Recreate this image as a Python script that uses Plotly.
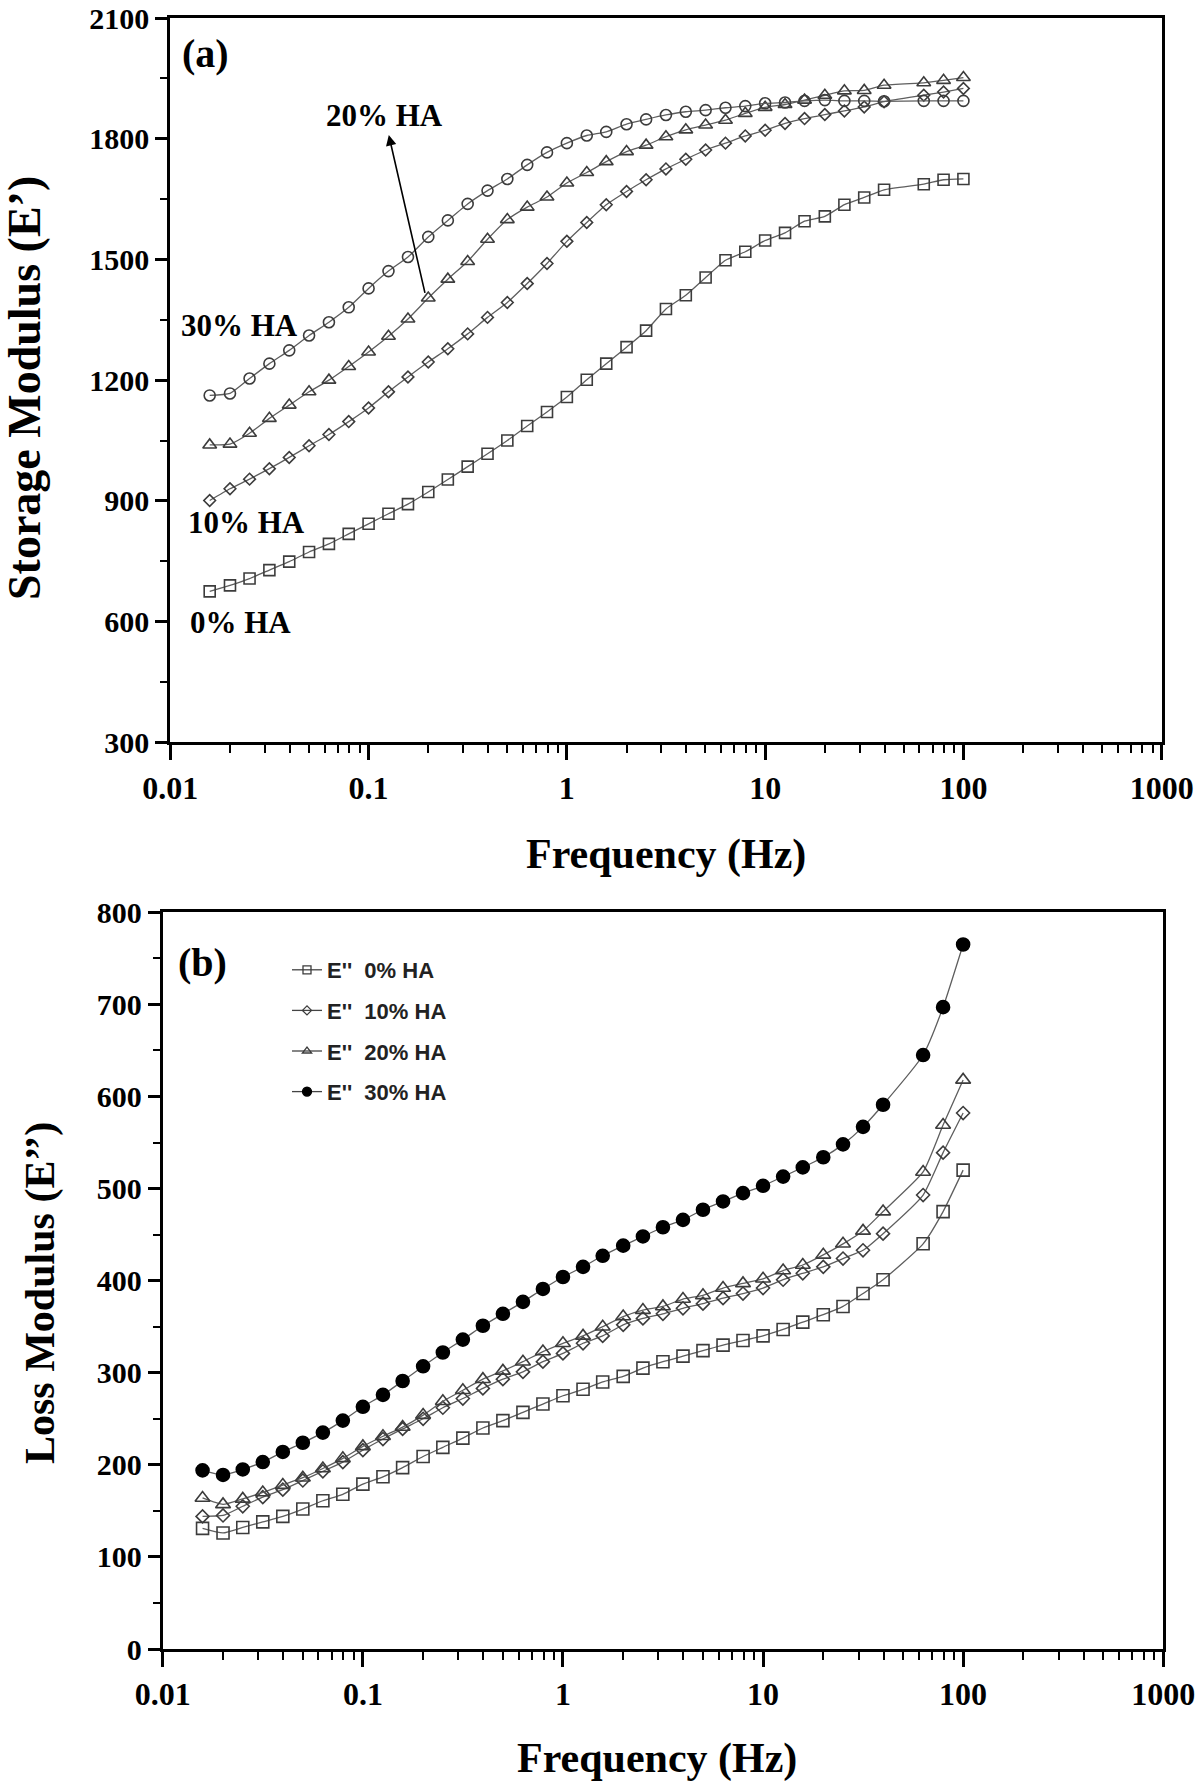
import plotly.graph_objects as go

# ---------------- data ----------------
freq = [0.0158, 0.02, 0.0251, 0.0316, 0.0398, 0.0501, 0.0631, 0.0794, 0.1, 0.126,
        0.158, 0.2, 0.251, 0.316, 0.398, 0.501, 0.631, 0.794, 1.0, 1.26,
        1.58, 2.0, 2.51, 3.16, 3.98, 5.01, 6.31, 7.94, 10.0, 12.6,
        15.8, 20.0, 25.1, 31.6, 39.8, 63.1, 79.4, 100.0]

# Storage modulus E' (panel a)
storage_0 = [675, 690, 707, 728, 749, 773, 793, 818, 843, 868, 892, 922, 953, 985, 1017, 1050, 1086, 1121, 1158, 1201,
             1241, 1282, 1323, 1377, 1411, 1455, 1498, 1519, 1547, 1566, 1595, 1607, 1636, 1654, 1673, 1687, 1698, 1700]
storage_10 = [901, 930, 954, 980, 1008, 1037, 1065, 1097, 1131, 1171, 1208, 1245, 1278, 1315, 1356, 1393, 1440, 1490, 1545, 1592,
              1636, 1669, 1698, 1725, 1749, 1772, 1789, 1807, 1821, 1838, 1850, 1860, 1869, 1879, 1892, 1908, 1916, 1925]
storage_20 = [1039, 1041, 1068, 1105, 1138, 1171, 1200, 1234, 1270, 1309, 1352, 1404, 1451, 1495, 1550, 1599, 1630, 1655, 1690, 1716,
              1743, 1768, 1784, 1805, 1822, 1834, 1846, 1863, 1878, 1885, 1896, 1908, 1919, 1920, 1933, 1939, 1945, 1952]
storage_30 = [1162, 1167, 1204, 1241, 1274, 1311, 1344, 1381, 1428, 1471, 1506, 1556, 1597, 1638, 1671, 1700, 1735, 1766, 1789, 1808,
              1817, 1836, 1848, 1859, 1867, 1871, 1877, 1881, 1888, 1890, 1894, 1896, 1894, 1894, 1893, 1894, 1894, 1894]

# Loss modulus E'' (panel b)
loss_0 = [131, 126, 132, 138, 144, 152, 161, 168, 179, 187, 197, 209, 219, 229, 240, 248, 257, 266, 275, 282,
          290, 296, 305, 312, 318, 324, 330, 335, 340, 347, 355, 363, 372, 386, 401, 440, 475, 520]
loss_10 = [144, 145, 155, 165, 173, 183, 193, 203, 216, 228, 239, 250, 262, 272, 283, 293, 301, 312, 321, 332,
           340, 352, 359, 364, 370, 375, 381, 386, 392, 401, 408, 415, 424, 433, 451, 493, 539, 582]
loss_20 = [164, 157, 163, 170, 178, 186, 196, 207, 220, 231, 241, 254, 269, 281, 293, 302, 312, 323, 332, 340,
           350, 361, 368, 372, 380, 384, 392, 397, 402, 411, 417, 428, 440, 454, 475, 518, 569, 618]
loss_30 = [194, 189, 195, 203, 214, 224, 235, 248, 263, 276, 291, 307, 322, 336, 351, 364, 377, 391, 404, 415,
           427, 438, 448, 458, 466, 477, 486, 495, 503, 513, 523, 534, 548, 567, 591, 645, 697, 765]

series_names = ["0% HA", "10% HA", "20% HA", "30% HA"]
legend_labels = ["E''\u00a0 0% HA", "E''\u00a0 10% HA", "E''\u00a0 20% HA", "E''\u00a0 30% HA"]

x_tickvals = [0.01, 0.1, 1, 10, 100, 1000]
x_ticktext = ["0.01", "0.1", "1", "10", "100", "1000"]

# ---------------- figure ----------------
W, H = 1200, 1785
SERIF = "Liberation Serif"
LINE_C = "#5e5e5e"
MARK_C = "#3c3c3c"

fig = go.Figure()

top_sets = [
    (storage_0, "square-open", 11),
    (storage_10, "diamond-open", 9),
    (storage_20, "triangle-up-open", 12),
    (storage_30, "circle-open", 11),
]
for (vals, sym, sz), nm in zip(top_sets, series_names):
    fig.add_trace(go.Scatter(
        x=freq, y=vals, mode="lines+markers", name=nm, showlegend=False,
        xaxis="x", yaxis="y",
        line=dict(color=LINE_C, width=1.3, shape="spline", smoothing=0.5),
        marker=dict(symbol=sym, size=sz, color=MARK_C, line=dict(width=1.6, color=MARK_C)),
    ))

bot_sets = [
    (loss_0, "square-open", 12, MARK_C),
    (loss_10, "diamond-open", 10, MARK_C),
    (loss_20, "triangle-up-open", 13, MARK_C),
    (loss_30, "circle", 13, "black"),
]
for (vals, sym, sz, col), nm in zip(bot_sets, series_names):
    fig.add_trace(go.Scatter(
        x=freq, y=vals, mode="lines+markers", name=nm, showlegend=False,
        xaxis="x2", yaxis="y2",
        line=dict(color=LINE_C, width=1.3, shape="spline", smoothing=0.5),
        marker=dict(symbol=sym, size=sz, color=col, line=dict(width=1.6, color=col)),
    ))

# legend-only entries (small symbols like the original legend)
leg_syms = [("square-open", 8, MARK_C), ("diamond-open", 7, MARK_C),
            ("triangle-up-open", 8, MARK_C), ("circle", 9, "black")]
for i, ((sym, sz, col), lab) in enumerate(zip(leg_syms, legend_labels)):
    fig.add_trace(go.Scatter(
        x=[None], y=[None], mode="lines+markers", name=lab, showlegend=True,
        legendgroup="g%d" % i, xaxis="x2", yaxis="y2",
        line=dict(color="#444444", width=1.3),
        marker=dict(symbol=sym, size=sz, color=col, line=dict(width=1.3, color=col)),
    ))

minor_log = [m * 10 ** e for e in range(-2, 3) for m in range(2, 10)]

def xaxis_cfg(domain, anchor):
    return dict(
        type="log", range=[-2, 3], domain=domain, anchor=anchor, automargin=False,
        showline=True, linewidth=3, linecolor="black", mirror=True,
        ticks="outside", ticklen=15, tickwidth=2.5, tickcolor="black",
        tickvals=x_tickvals, ticktext=x_ticktext,
        tickfont=dict(family=SERIF, size=32, color="black", weight="bold"),
        minor=dict(ticks="outside", ticklen=8, tickwidth=2, tickcolor="black",
                   tickvals=minor_log, showgrid=False),
        showgrid=False, zeroline=False, ticklabelstandoff=0, ticklabeloverflow="allow",
    )

def yaxis_cfg(domain, anchor, rng, dt):
    return dict(
        range=rng, domain=domain, anchor=anchor, tick0=rng[0], dtick=dt, automargin=False,
        showline=True, linewidth=3, linecolor="black", mirror=True,
        ticks="outside", ticklen=12, tickwidth=2.5, tickcolor="black",
        tickfont=dict(family=SERIF, size=30, color="black", weight="bold"),
        minor=dict(ticks="outside", ticklen=7, tickwidth=2, tickcolor="black",
                   dtick=dt / 2, showgrid=False),
        showgrid=False, zeroline=False, ticklabelstandoff=0, ticklabeloverflow="allow",
    )

def px(x):
    return x / W

def py(y):
    return 1 - y / H

fig.update_layout(
    width=W, height=H, autosize=False,
    margin=dict(l=0, r=0, t=0, b=0, autoexpand=False),
    paper_bgcolor="white", plot_bgcolor="white",
    xaxis=xaxis_cfg([px(170.3), px(1161.7)], "y"),
    yaxis=yaxis_cfg([py(742.3), py(18)], "x", [300, 2100], 300),
    xaxis2=xaxis_cfg([px(162.8), px(1163.2)], "y2"),
    yaxis2=yaxis_cfg([py(1649), py(912.3)], "x2", [0, 800], 100),
    showlegend=True,
    legend=dict(
        x=px(287), y=py(949), xanchor="left", yanchor="top",
        bgcolor="rgba(0,0,0,0)", borderwidth=0,
        font=dict(family="Liberation Sans", size=22, color="#222222", weight="bold"),
        traceorder="grouped", tracegroupgap=9, itemsizing="trace",
    ),
)

title_font = dict(family=SERIF, color="black", weight="bold")
C = dict(xanchor="center", yanchor="middle", showarrow=False)
annotations = [
    # axis titles
    dict(text="Frequency (Hz)", x=px(666), y=py(854), xref="paper", yref="paper",
         font=dict(size=42, **title_font), **C),
    dict(text="Frequency (Hz)", x=px(657), y=py(1758), xref="paper", yref="paper",
         font=dict(size=42, **title_font), **C),
    dict(text="Storage Modulus (E\u2019)", x=px(24), y=py(388), xref="paper", yref="paper",
         textangle=-90, font=dict(size=46, **title_font), **C),
    dict(text="Loss Modulus (E\u2019\u2019)", x=px(40), y=py(1293), xref="paper", yref="paper",
         textangle=-90, font=dict(size=42, **title_font), **C),
    # panel labels
    dict(text="(a)", x=-1.825, y=2013, xref="x", yref="y",
         font=dict(size=40, **title_font), **C),
    dict(text="(b)", x=-1.804, y=745, xref="x2", yref="y2",
         font=dict(size=40, **title_font), **C),
    # series labels in panel a
    dict(text="20% HA", x=-0.922, y=1858, xref="x", yref="y",
         font=dict(size=31, **title_font), **C),
    dict(text="30% HA", x=-1.651, y=1336, xref="x", yref="y",
         font=dict(size=31, **title_font), **C),
    dict(text="10% HA", x=-1.617, y=845, xref="x", yref="y",
         font=dict(size=31, **title_font), **C),
    dict(text="0% HA", x=-1.648, y=598, xref="x", yref="y",
         font=dict(size=31, **title_font), **C),
    # arrow
    dict(text="", x=-0.898, y=1809, xref="x", yref="y",
         ax=-0.714, ay=1413, axref="x", ayref="y",
         showarrow=True, arrowhead=2, arrowsize=1.3, arrowwidth=1.6,
         arrowcolor="black", standoff=0, startstandoff=0),
]
fig.update_layout(annotations=annotations)

fig.write_html("out.html", config={"displayModeBar": False},
               post_script="document.body.style.margin='0px';")
